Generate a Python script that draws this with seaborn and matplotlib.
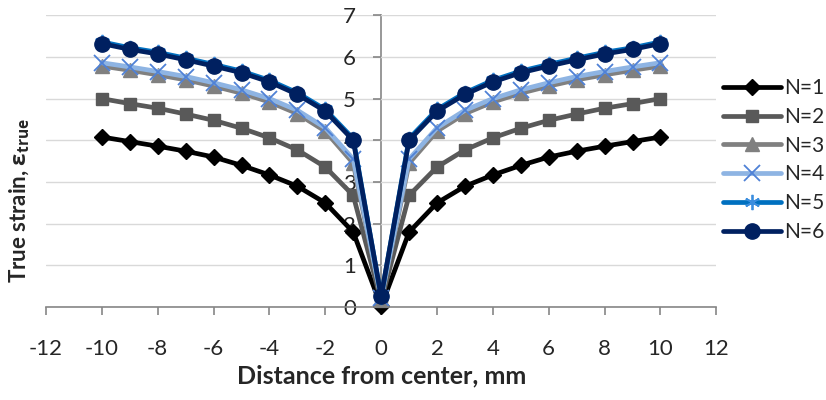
import numpy as np
import pandas as pd
import matplotlib
matplotlib.use("Agg")
import matplotlib.pyplot as plt
import seaborn as sns

# distance from center (mm)
distance = [-10, -9, -8, -7, -6, -5, -4, -3, -2, -1, 0,
            1, 2, 3, 4, 5, 6, 7, 8, 9, 10]

# true strain per number of passes (left half, mirrored)
n1_half = [4.08, 3.97, 3.86, 3.74, 3.60, 3.40, 3.17, 2.90, 2.50, 1.80]
n2_half = [5.00, 4.88, 4.77, 4.63, 4.48, 4.29, 4.06, 3.77, 3.36, 2.68]
n3_half = [5.78, 5.68, 5.57, 5.45, 5.30, 5.13, 4.92, 4.64, 4.22, 3.45]
n4_half = [5.86, 5.76, 5.65, 5.53, 5.38, 5.21, 5.00, 4.72, 4.30, 3.55]
n5_half = [6.36, 6.22, 6.11, 5.97, 5.82, 5.66, 5.44, 5.14, 4.74, 4.04]
n6_half = [6.32, 6.18, 6.07, 5.93, 5.78, 5.62, 5.40, 5.10, 4.70, 4.00]
center = [0.02, 0.15, 0.20, 0.22, 0.25, 0.26]

halves = [n1_half, n2_half, n3_half, n4_half, n5_half, n6_half]
labels = ["N=1", "N=2", "N=3", "N=4", "N=5", "N=6"]

rows = []
for lab, half, c in zip(labels, halves, center):
    vals = half + [c] + half[::-1]
    for d, v in zip(distance, vals):
        rows.append({"distance": d, "strain": v, "series": lab})
df = pd.DataFrame(rows)

sns.set_style("white")
plt.rcParams["font.family"] = ["Lato", "DejaVu Sans"]
plt.rcParams["axes.unicode_minus"] = False
plt.rcParams["mathtext.fontset"] = "custom"
plt.rcParams["mathtext.rm"] = "Open Sans"
plt.rcParams["mathtext.bf"] = "Open Sans:bold"
plt.rcParams["mathtext.it"] = "Open Sans:italic"

line_colors = ["#000000", "#595959", "#808080", "#8EB4E3", "#0070C0", "#002060"]
mark_colors = ["#000000", "#595959", "#808080", "#4F81D6", "#3A8DDE", "#002060"]
markers = ["D", "s", "^", "x", (6, 2, 0), "o"]
msizes = [8, 9, 10, 11, 11, 11]
mews = [1, 1, 1, 1.3, 1.3, 1]

fig = plt.figure(figsize=(8.26, 4.0), dpi=100)
ax = fig.add_axes([0.0557, 0.232, 0.8115, 0.73])

for lab, lc, mc, mk, ms, mw in zip(labels, line_colors, mark_colors, markers, msizes, mews):
    sub = df[df["series"] == lab]
    sns.lineplot(data=sub, x="distance", y="strain", ax=ax, color=lc, lw=3.4,
                 marker=mk, markersize=ms, mec=mc, mfc=mc, mew=mw, label=lab,
                 solid_joinstyle="round", solid_capstyle="round", clip_on=False)

ax.set_xlim(-12, 12)
ax.set_ylim(0, 7)
ax.set_xticks(range(-12, 13, 2))
ax.set_yticks(range(0, 8))
ax.yaxis.grid(True, color="#D9D9D9", lw=1)
ax.set_axisbelow(True)

for s in ["top", "right"]:
    ax.spines[s].set_visible(False)
ax.spines["left"].set_position(("data", 0))
ax.spines["left"].set_color("#868686")
ax.spines["bottom"].set_color("#868686")
ax.spines["left"].set_linewidth(1.2)
ax.spines["bottom"].set_linewidth(1.2)
ax.spines["left"].set_zorder(0.5)

ax.tick_params(axis="x", direction="out", length=6, width=1.2, color="#868686",
               labelsize=16, pad=17, bottom=True)
ax.tick_params(axis="y", direction="out", length=6, width=1.2, color="#868686",
               labelsize=16, pad=12, left=True)

ax.set_xlabel("Distance from center, mm", fontsize=18, fontweight="bold", labelpad=4)
ax.set_ylabel(r"True strain, $\mathbf{\varepsilon_{true}}$", fontsize=16,
              fontweight="bold")
ax.yaxis.set_label_coords(32 / 826, 0.5, transform=fig.transFigure)

leg = ax.legend(loc="center left", bbox_to_anchor=(0.865, 0.6),
                bbox_transform=fig.transFigure, frameon=False, fontsize=15,
                handlelength=2.8, handletextpad=0.15, labelspacing=0.42,
                borderaxespad=0)

fig.savefig("out.png", dpi=100)
